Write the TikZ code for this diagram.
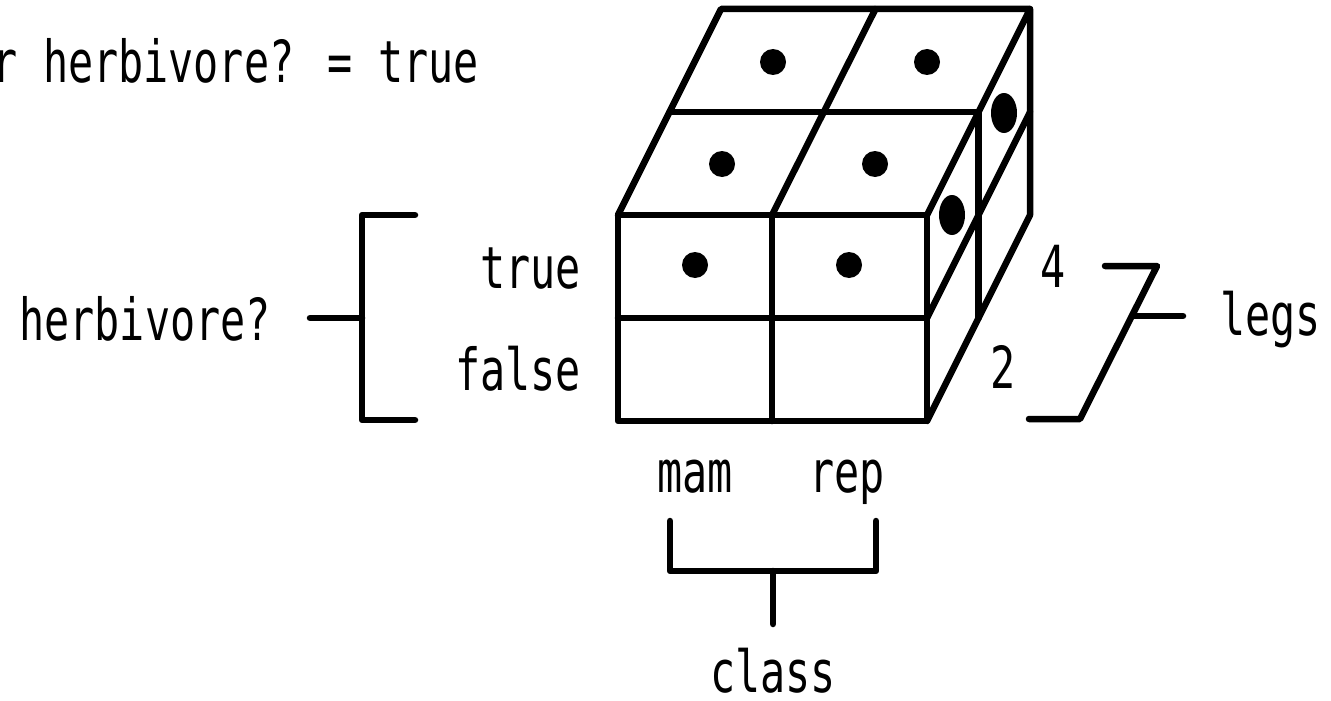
\documentclass[tikz,border=0pt]{standalone}
\usepackage{fontspec}
\newfontfamily\lbl[FakeStretch=0.72]{DejaVu Sans Mono}
\begin{document}
\begin{tikzpicture}[x=1pt,y=-1pt,
  edge/.style={line width=6.5pt,line cap=round,line join=round},
  txt/.style={font=\lbl\fontsize{58}{64}\selectfont,inner sep=0pt},
  dot/.style={fill=black}]
\useasboundingbox (0,0) rectangle (1331,701);
% cube corners
\coordinate (FTL) at (618,215);
\coordinate (FTR) at (927,215);
\coordinate (FBL) at (618,421);
\coordinate (FBR) at (927,421);
\coordinate (BTL) at (721,9);
\coordinate (BTR) at (1030,9);
\coordinate (BBR) at (1030,215);
% front face
\draw[edge] (FTL) rectangle (FBR);
\draw[edge] (772,215) -- (772,421);
\draw[edge] (618,318) -- (927,318);
% top face
\draw[edge] (FTL) -- (BTL) -- (BTR) -- (FTR);
\draw[edge] (669.5,112) -- (978.5,112);
\draw[edge] (772,215) -- (875.5,9);
% right face
\draw[edge] (BTR) -- (BBR) -- (FBR);
\draw[edge] (978.5,112) -- (978.5,318);
\draw[edge] (927,318) -- (1030,112);
% dots
\fill[dot] (722,164) circle (13);
\fill[dot] (875,164) circle (13);
\fill[dot] (773,62) circle (13);
\fill[dot] (927,62) circle (13);
\fill[dot] (695,265) circle (13);
\fill[dot] (849,265) circle (13);
\fill[dot] (952,215) ellipse (13 and 20);
\fill[dot] (1004,113) ellipse (13 and 20);
% left bracket
\coordinate (lbt) at (415,215);
\coordinate (lbb) at (415,420);
\coordinate (lbs) at (310,318);
\draw[edge] (lbt) -- (362,215) -- (362,420) -- (lbb);
\draw[edge] (lbs) -- (362,318);
\node[txt,anchor=base east] (herb) at (271,340) {herbivore?};
\node[txt,anchor=base east] (tru) at (581,288) {true};
\node[txt,anchor=base east] (fal) at (581,390) {false};
% right bracket
\coordinate (rbt) at (1105,266);
\coordinate (rbb) at (1029,419);
\coordinate (rbs) at (1183,316);
\draw[edge] (rbt) -- (1157,266) -- (1080,419) -- (rbb);
\draw[edge] (1132,316) -- (rbs);
\node[txt,anchor=base] (four) at (1053,287) {4};
\node[txt,anchor=base] (two) at (1003,388) {2};
\node[txt,anchor=base west] (legs) at (1220,335) {legs};
% bottom bracket
\coordinate (bbl) at (670,521);
\coordinate (bbr) at (876,521);
\coordinate (bbs) at (773,624);
\draw[edge] (bbl) -- (670,571) -- (876,571) -- (bbr);
\draw[edge] (773,571) -- (bbs);
\node[txt,anchor=base] (mam) at (695,492) {mam};
\node[txt,anchor=base] (rep) at (847,492) {rep};
\node[txt,anchor=base] (cls) at (773,692) {class};
% top label
\node[txt,anchor=base east] (filt) at (479,82) {r herbivore? = true};
\end{tikzpicture}
\end{document}
